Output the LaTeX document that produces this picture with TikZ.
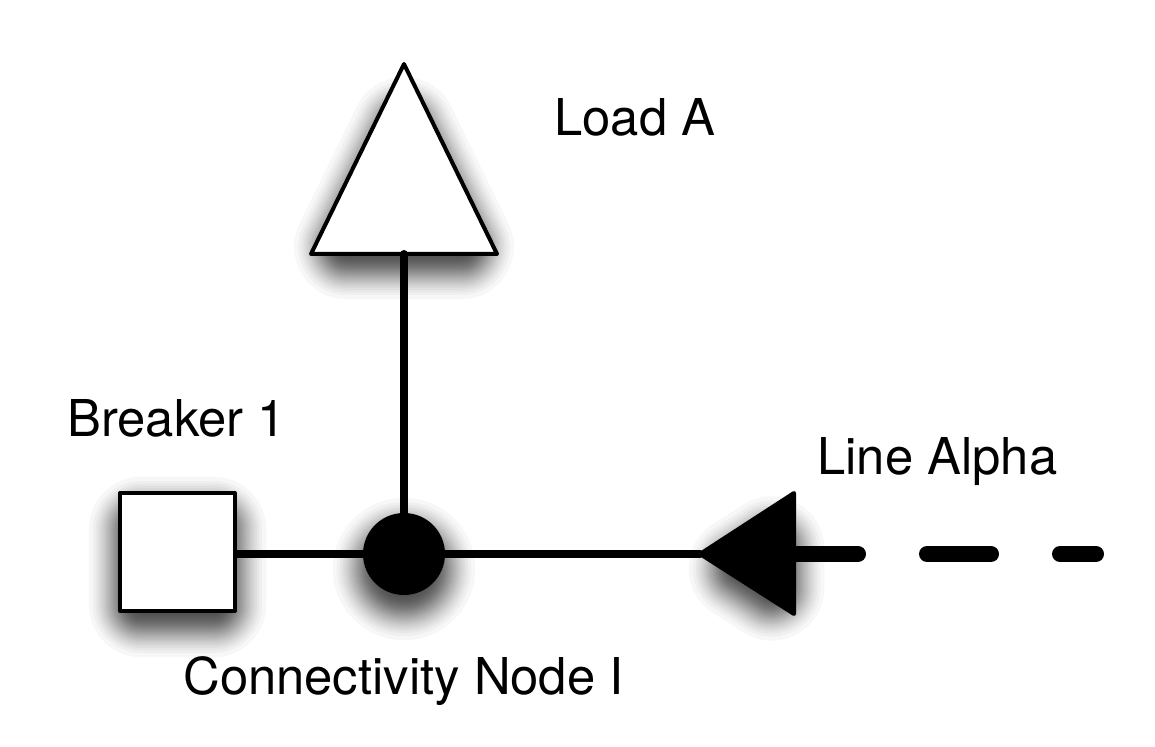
\documentclass[tikz,border=0pt]{standalone}
\usepackage{fontspec}
\setmainfont{TeX Gyre Heros}
\usetikzlibrary{positioning,calc}

\tikzset{
    wire/.style={line width=0.16cm, line cap=round},
    outline/.style={line width=0.08cm, line join=round, fill=white},
    solidmark/.style={line width=0.08cm, line join=round, fill=black},
    label/.style={inner sep=0pt, anchor=base west, font=\fontsize{28.9}{32}\selectfont},
    breakerbox/.style={draw, outline, rectangle, inner sep=0pt, minimum width=2.3cm, minimum height=2.36cm},
    busdot/.style={draw=none, fill=black, circle, inner sep=0pt, minimum size=1.64cm}
}

% layered soft shadow, grown from a shape set in from the real one
\newcommand{\softshadow}[1]{
    \foreach \i in {1,...,40}{
        \pgfmathsetmacro{\p}{(\i-0.5)/40}
        \pgfmathsetmacro{\w}{max(0.02,2*(0.45+0.72*(\p<0.5 ? sqrt(2*\p)-1 : 1-sqrt(2*(1-\p)))))}
        \begin{scope}[transparency group, opacity=0.03, yshift=-0.3cm]
            \path[fill=black, draw=black, line width=\w cm, line join=round] #1;
        \end{scope}
    }
}

\begin{document}
\begin{tikzpicture}
    \useasboundingbox[fill=white] (0,0) rectangle (23.1,14.92);

    % Shadows
    \softshadow{(6.942,10.29) -- (8.08,12.62) -- (9.218,10.29) -- cycle}
    \softshadow{(2.83,3.13) rectangle (4.27,4.63)}
    \softshadow{(8.08,3.84) circle (0.37)}
    \softshadow{(14.83,3.85) -- (15.43,4.235) -- (15.43,3.465) -- cycle}

    % Load
    \coordinate (loadbase) at (8.08,9.84);
    \draw[outline] (6.22,9.84) -- (8.08,13.64) -- (9.94,9.84) -- cycle;
    \node[label] (loadlabel) at (11.08,12.2) {Load A};

    % Breaker
    \node[breakerbox] (breaker) at (3.55,3.88) {};
    \node[label] (breakerlabel) at (1.34,6.2) {Breaker 1};

    % Connectivity node
    \node[busdot] (bus) at (8.08,3.84) {};
    \node[label] (buslabel) at (3.66,1.04) {Connectivity Node I};

    % Incoming line
    \coordinate (linetip) at (14.0,3.84);
    \coordinate (lineback) at (15.88,3.84);
    \coordinate (lineend) at (21.92,3.84);
    \draw[line width=0.32cm, line cap=round, dash pattern=on 1.28cm off 1.38cm] (lineback) -- (lineend);
    \draw[solidmark] (linetip) -- (15.88,5.06) -- (15.88,2.64) -- cycle;
    \node[label] (linelabel) at (16.34,5.42) {Line Alpha};

    % Connections
    \draw[wire] (loadbase) -- (bus);
    \draw[wire] (breaker.east |- bus) -- (bus);
    \draw[wire] (bus) -- (linetip);
\end{tikzpicture}
\end{document}
